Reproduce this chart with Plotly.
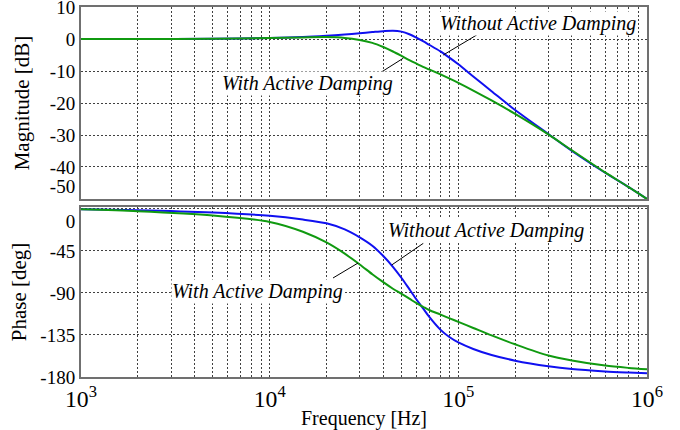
import plotly.graph_objects as go

# ---------------- data ----------------
freq = [1e3, 2e3, 5e3, 1e4, 1.5e4, 2e4, 2.5e4, 3e4, 3.5e4, 4e4, 4.5e4, 5e4,
        5.5e4, 6e4, 6.5e4, 7e4, 8e4, 9e4, 1e5, 1.2e5, 1.5e5, 2e5, 3e5, 4e5,
        6e5, 8e5, 1e6]

mag_without = [0.0, 0.0, 0.1, 0.3, 0.6, 1.0, 1.4, 1.8, 2.15, 2.45, 2.6, 2.3,
               1.5, 0.4, -0.7, -1.8, -3.8, -5.9, -7.9, -11.7, -16.3, -22.2,
               -29.7, -35.0, -41.8, -46.3, -50.0]
mag_with = [0.0, 0.0, 0.1, 0.3, 0.5, 0.6, 0.35, -0.3, -1.2, -2.5, -3.9, -5.3,
            -6.6, -7.7, -8.7, -9.5, -11.0, -12.4, -13.7, -16.1, -19.2, -23.4,
            -29.8, -34.8, -41.7, -46.3, -50.0]

phase_without = [-0.5, -1.5, -4.0, -7.5, -11.5, -15.5, -22.0, -30.5, -39.5,
                 -50.5, -62.0, -74.0, -86.0, -97.0, -106.5, -115.5, -129.0,
                 -137.5, -143.0, -150.0, -156.5, -162.5, -168.5, -171.5,
                 -174.0, -175.2, -176.0]
phase_with = [-0.5, -2.5, -7.0, -14.0, -24.5, -36.0, -48.0, -59.5, -70.0,
              -78.5, -85.5, -91.0, -96.2, -101.0, -104.8, -108.3, -113.0,
              -117.2, -121.0, -127.5, -135.5, -145.0, -157.0, -162.3, -167.8,
              -170.3, -171.8]

mag_ticks = [10, 0, -10, -20, -30, -40, -50]
phase_ticks = [0, -45, -90, -135, -180]

label_without = "Without Active Damping"
label_with = "With Active Damping"

# ---------------- styles ----------------
BLUE = "#1010f0"
GREEN = "#109a10"
FRAME = "#707070"
GRID = "#404040"
FONT = "Liberation Serif, Times New Roman, serif"

fig = go.Figure()

def curve(y, color, xa, ya):
    fig.add_trace(go.Scatter(x=freq, y=y, mode="lines", xaxis=xa, yaxis=ya,
                             line=dict(color=color, width=2, shape="spline", smoothing=0.8),
                             showlegend=False, hoverinfo="skip"))

curve(mag_without, BLUE, "x", "y")
curve(mag_with, GREEN, "x", "y")
curve(phase_without, BLUE, "x2", "y2")
curve(phase_with, GREEN, "x2", "y2")

grid_common = dict(showgrid=True, gridcolor=GRID, griddash="2px,2px", gridwidth=1,
                   showline=True, linecolor=FRAME, linewidth=2, mirror=True,
                   zeroline=False, ticks="", automargin=False, ticklabeloverflow="allow",
                   tickfont=dict(family=FONT, size=19, color="black"))

xminor = dict(dtick="D1", showgrid=True, gridcolor=GRID, griddash="2px,2px", gridwidth=1)

def tick_text(vals, first_low=False, last_high=False):
    out = []
    for i, v in enumerate(vals):
        s = str(v)
        if last_high and i == len(vals) - 1:
            s = s + "<br> "
        if first_low and i == 0:
            s = " <br>" + s
        out.append(s)
    return out

fig.update_layout(
    width=680, height=430,
    margin=dict(l=81, r=33, t=7, b=53),
    paper_bgcolor="white", plot_bgcolor="white",
    font=dict(family=FONT, size=19, color="black"),
    xaxis=dict(type="log", range=[3, 6], dtick=1, anchor="y", domain=[0, 1],
               showticklabels=False, minor=xminor, **grid_common),
    yaxis=dict(range=[-50, 10], tickvals=mag_ticks, ticktext=tick_text(mag_ticks, last_high=True),
               domain=[0.4811, 1], anchor="x",
               title=dict(text="Magnitude [dB]", font=dict(family=FONT, size=21), standoff=15),
               **grid_common),
    xaxis2=dict(type="log", range=[3, 6], dtick=1, anchor="y2", domain=[0, 1],
                exponentformat="power", showticklabels=True, minor=xminor,
                title=dict(text="Frequency [Hz]", font=dict(family=FONT, size=20), standoff=0),
                **grid_common),
    yaxis2=dict(range=[-180, 2], tickvals=phase_ticks, ticktext=tick_text(phase_ticks, first_low=True),
                domain=[0, 0.4595], anchor="x2",
                title=dict(text="Phase [deg]", font=dict(family=FONT, size=21), standoff=8),
                **grid_common),
)

def label(text, xr, yr, x, y):
    fig.add_annotation(text="<i>" + text + "</i>", xref=xr, yref=yr, x=x, y=y,
                       showarrow=False, bgcolor="white", borderpad=0,
                       font=dict(family=FONT, size=20, color="black"))

def pointer(xr, yr, x0, y0, x1, y1):
    fig.add_shape(type="line", xref=xr, yref=yr, x0=x0, y0=y0, x1=x1, y1=y1,
                  line=dict(color="black", width=1))

# magnitude labels
label(label_without, "x", "y", 5.4222, 4.69)
pointer("x", "y", 10**5.0973, 1.25, 10**4.920, -5.0)
label(label_with, "x", "y", 4.1979, -14.06)
pointer("x", "y", 10**4.5848, -10.6, 10**4.7083, -6.0)
# phase labels
label(label_without, "x2", "y2", 5.1466, -23.7)
pointer("x2", "y2", 10**4.8143, -36.9, 10**4.6468, -60.1)
label(label_with, "x2", "y2", 3.9329, -89.0)
pointer("x2", "y2", 10**4.3357, -74.0, 10**4.4682, -58.0)

fig.write_html("out.html")
